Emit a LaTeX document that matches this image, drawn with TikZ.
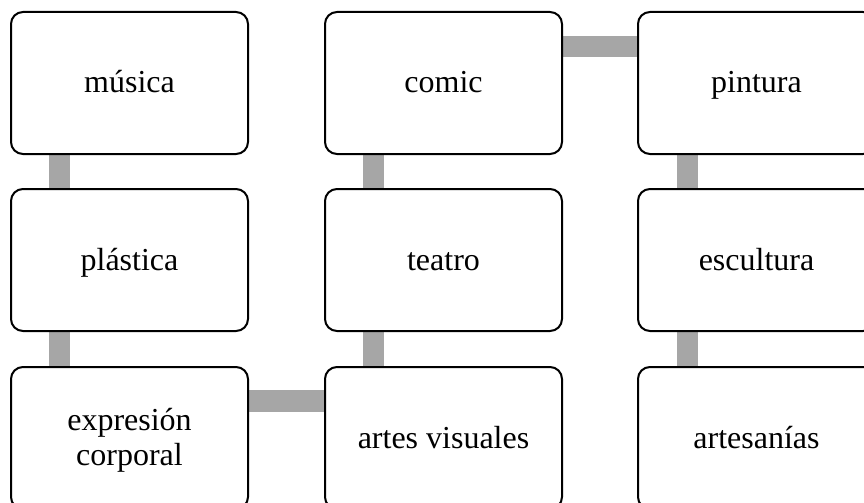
\documentclass[tikz,border=0pt]{standalone}
\usepackage{fontspec}
\setmainfont{Liberation Serif}
\usetikzlibrary{calc}
\definecolor{linkgray}{HTML}{A6A6A6}
\tikzset{
  itembox/.style={draw=black, line width=1.5pt, fill=white, rounded corners=9pt,
    minimum width=177.75pt, minimum height=106.5pt, inner sep=0pt, anchor=north west},
  itemtext/.style={inner sep=0pt, align=center, font=\fontsize{24}{26.5}\selectfont},
  linkbar/.style={draw=linkgray, line width=16pt}
}
\begin{document}
\begin{tikzpicture}[x=0.75pt, y=-0.75pt]
\useasboundingbox (0,0) rectangle (864,503);
\clip (0,0) rectangle (864,503);
\fill[white] (0,0) rectangle (864,503);
% box outlines (placed first so connectors can refer to them)
\path
  (10,11)  coordinate (musica)
  (10,188) coordinate (plastica)
  (10,366) coordinate (expresion)
  (324,11)  coordinate (comic)
  (324,188) coordinate (teatro)
  (324,366) coordinate (artesv)
  (637,11)  coordinate (pintura)
  (637,188) coordinate (escultura)
  (637,366) coordinate (artesanias);
% connectors
\draw[linkbar] ($(musica)+(49.5,142)$) -- ($(plastica)+(49.5,0)$);
\draw[linkbar] ($(plastica)+(49.5,142)$) -- ($(expresion)+(49.5,0)$);
\draw[linkbar] ($(expresion)+(237,35)$) -- ($(artesv)+(0,35)$);
\draw[linkbar] ($(artesv)+(49.5,0)$) -- ($(teatro)+(49.5,142)$);
\draw[linkbar] ($(teatro)+(49.5,0)$) -- ($(comic)+(49.5,142)$);
\draw[linkbar] ($(comic)+(237,35.5)$) -- ($(pintura)+(0,35.5)$);
\draw[linkbar] ($(pintura)+(50.5,142)$) -- ($(escultura)+(50.5,0)$);
\draw[linkbar] ($(escultura)+(50.5,142)$) -- ($(artesanias)+(50.5,0)$);
% boxes
\node[itembox] (bmusica) at (musica) {};
\node[itembox] (bplastica) at (plastica) {};
\node[itembox] (bexpresion) at (expresion) {};
\node[itembox] (bcomic) at (comic) {};
\node[itembox] (bteatro) at (teatro) {};
\node[itembox] (bartesv) at (artesv) {};
\node[itembox] (bpintura) at (pintura) {};
\node[itembox] (bescultura) at (escultura) {};
\node[itembox] (bartesanias) at (artesanias) {};
% labels
\node[itemtext, anchor=base] (tmusica) at ($(bmusica.north)+(0,82)$) {música};
\node[itemtext, anchor=base] (tplastica) at ($(bplastica.north)+(0,82)$) {plástica};
\node[itemtext, anchor=center] (texpresion) at ($(bexpresion.north)+(0,74)$) {expresión\\corporal};
\node[itemtext, anchor=base] (tcomic) at ($(bcomic.north)+(0,82)$) {comic};
\node[itemtext, anchor=base] (tteatro) at ($(bteatro.north)+(0,82)$) {teatro};
\node[itemtext, anchor=base] (tartesv) at ($(bartesv.north)+(0,82)$) {artes visuales};
\node[itemtext, anchor=base] (tpintura) at ($(bpintura.north)+(0,82)$) {pintura};
\node[itemtext, anchor=base] (tescultura) at ($(bescultura.north)+(0,82)$) {escultura};
\node[itemtext, anchor=base] (tartesanias) at ($(bartesanias.north)+(0,82)$) {artesanías};
\end{tikzpicture}
\end{document}
